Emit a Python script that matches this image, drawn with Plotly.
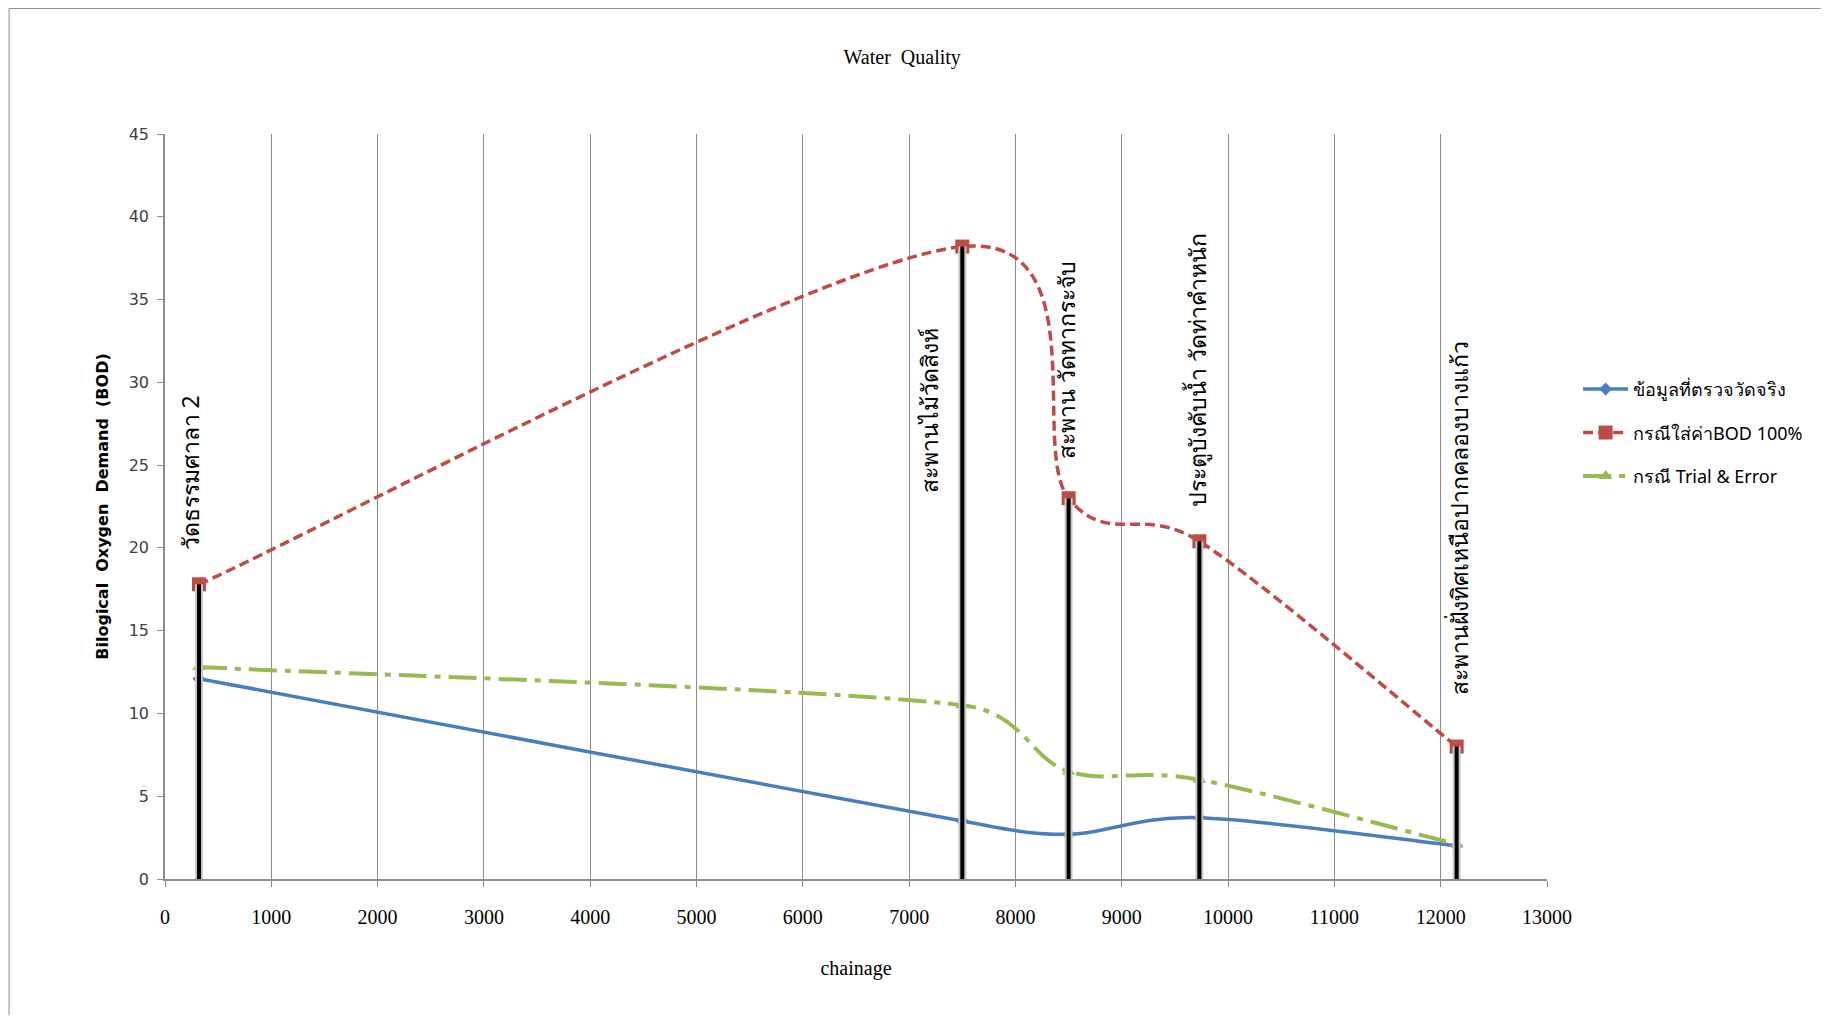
import math
import plotly.graph_objects as go

# ---- data ----
chainage = [320, 7500, 8500, 9730, 12150]
measured = [12.1, 3.5, 2.7, 3.7, 2.0]          # ข้อมูลที่ตรวจวัดจริง
bod100 = [17.8, 38.2, 23.0, 20.4, 8.0]         # กรณีใส่ค่าBOD 100%
trial = [12.8, 10.5, 6.5, 6.0, 2.1]            # กรณี Trial & Error
station_names = [
    "วัดธรรมศาลา 2",
    "สะพานไม้วัดสิงห์",
    "สะพาน วัดทากระจับ",
    "ประตูบังคับน้ำ วัดท่าคำหนัก",
    "สะพานฝั่งทิศเหนือปากคลองบางแก้ว",
]
series_names = ["ข้อมูลที่ตรวจวัดจริง", "กรณีใส่ค่าBOD 100%", "กรณี Trial & Error"]
x_ticks = list(range(0, 13001, 1000))
y_ticks = list(range(0, 46, 5))
X_RANGE = [0, 13000]
Y_RANGE = [0, 45]

# ---- label placement (styling only) ----
label_base_y = [19.7, 23.2, 25.2, 22.4, 11.0]
label_xshift = [-9, -33, -3, -2, 2]

BLUE = "#4a7ebb"
RED = "#be4b48"
GREEN = "#98b954"
THAI_FONT = "Noto Sans, DejaVu Sans, Liberation Sans, sans-serif"
SERIF = "Liberation Serif, Times New Roman, serif"

# page body has an 8px margin; figure sized to fit without scrolling
W, H = 1813, 1008
L, R, T, B = 156.5, 274, 126, 136.5
PW, PH = W - L - R, H - T - B
SX = PW / (X_RANGE[1] - X_RANGE[0])   # px per data unit (for smoothing geometry only)
SY = PH / (Y_RANGE[1] - Y_RANGE[0])


def smooth_path(xs, ys, clamp=0.5):
    """Spreadsheet-style smoothed line: cubic Bezier, handles = 1/6 of the
    neighbour chord (screen space), limited to a fraction of the segment."""
    pts = [(x * SX, y * SY) for x, y in zip(xs, ys)]
    n = len(pts)

    def handle(vec, seg):
        ln = math.hypot(*vec)
        lim = clamp * math.hypot(*seg)
        if ln > lim and ln > 0:
            vec = (vec[0] * lim / ln, vec[1] * lim / ln)
        return vec

    d = f"M {xs[0]},{ys[0]}"
    for i in range(n - 1):
        pp = pts[i - 1] if i > 0 else pts[i]
        p0, p1 = pts[i], pts[i + 1]
        pn = pts[i + 2] if i + 2 < n else pts[i + 1]
        seg = (p1[0] - p0[0], p1[1] - p0[1])
        h1 = handle(((p1[0] - pp[0]) / 6, (p1[1] - pp[1]) / 6), seg)
        h2 = handle(((pn[0] - p0[0]) / 6, (pn[1] - p0[1]) / 6), seg)
        c1 = ((p0[0] + h1[0]) / SX, (p0[1] + h1[1]) / SY)
        c2 = ((p1[0] - h2[0]) / SX, (p1[1] - h2[1]) / SY)
        d += f" C {c1[0]:.3f},{c1[1]:.4f} {c2[0]:.3f},{c2[1]:.4f} {xs[i + 1]},{ys[i + 1]}"
    return d


series = [
    (measured, series_names[0], BLUE, 3.5, "solid", "diamond", 10),
    (bod100, series_names[1], RED, 3.5, "10px,5px", "square", 14),
    (trial, series_names[2], GREEN, 4, "28px,8px,6px,8px", "triangle-up", 12),
]

fig = go.Figure()
shapes = []

try:
    go.layout.Shape(layer="between")
    CURVE_LAYER = "between"
except Exception:
    CURVE_LAYER = "below"

for vals, name, col, lw, dash, sym, msize in series:
    # smoothed connecting curve, drawn on the data axes
    shapes.append(dict(type="path", xref="x", yref="y", path=smooth_path(chainage, vals),
                       line=dict(color=col, width=lw, dash=dash), layer=CURVE_LAYER))
    # data markers
    fig.add_trace(go.Scatter(x=chainage, y=vals, mode="markers", name=name, showlegend=False,
                             marker=dict(symbol=sym, size=msize, color=col)))
    # legend entry
    fig.add_trace(go.Scatter(x=[None], y=[None], mode="lines+markers", name=name,
                             legendgroup=name,
                             line=dict(color=col, width=lw, dash=dash),
                             marker=dict(symbol=sym, size=msize, color=col)))

# vertical station lines from 0 up to the BOD-100% value
vx, vy = [], []
for cx, top in zip(chainage, bod100):
    vx += [cx, cx, None]
    vy += [0, top, None]
fig.add_trace(go.Scatter(
    x=vx, y=vy, mode="lines", showlegend=False, hoverinfo="skip",
    line=dict(color="#c8c8c8", width=8)))
fig.add_trace(go.Scatter(
    x=vx, y=vy, mode="lines", showlegend=False, hoverinfo="skip",
    line=dict(color="black", width=4)))

annotations = []
for cx, yb, xs, txt in zip(chainage, label_base_y, label_xshift, station_names):
    annotations.append(dict(
        x=cx, y=yb, xref="x", yref="y", text=txt, showarrow=False,
        textangle=-90, xanchor="center", yanchor="bottom", xshift=xs,
        font=dict(family=THAI_FONT, size=23, color="black")))

# chart-area border (left and top edges visible)
shapes += [
    dict(type="line", xref="paper", yref="paper",
         x0=(0.5 - L) / PW, x1=(0.5 - L) / PW,
         y0=-B / PH, y1=(H - 0.5 - B) / PH,
         line=dict(color="#8c8c8c", width=1)),
    dict(type="line", xref="paper", yref="paper",
         x0=(0.5 - L) / PW, x1=(W - L) / PW,
         y0=(H - 0.5 - B) / PH, y1=(H - 0.5 - B) / PH,
         line=dict(color="#8c8c8c", width=1)),
]

fig.update_layout(
    width=W, height=H,
    paper_bgcolor="white", plot_bgcolor="white",
    margin=dict(l=L, r=R, t=T, b=B, autoexpand=False),
    title=dict(text="Water  Quality", x=(902 - 8 - L) / PW, xref="paper", xanchor="center",
               y=1 - 49 / H, yref="container", yanchor="middle",
               font=dict(family=SERIF, size=20, color="black")),
    xaxis=dict(
        range=X_RANGE, tickvals=x_ticks, ticktext=[str(v) for v in x_ticks],
        showgrid=True, gridcolor="#8c8c8c", gridwidth=1,
        showline=True, linecolor="#8c8c8c", linewidth=1.5,
        ticks="outside", ticklen=6, tickcolor="#8c8c8c",
        zeroline=False, ticklabelstandoff=13,
        tickfont=dict(family=SERIF, size=20, color="black"),
        title=dict(text="chainage", standoff=34,
                   font=dict(family=SERIF, size=20, color="black"))),
    yaxis=dict(
        range=Y_RANGE, tickvals=y_ticks, showgrid=False,
        showline=True, linecolor="#8c8c8c", linewidth=1.5,
        ticks="outside", ticklen=6, tickcolor="#8c8c8c",
        zeroline=False, ticklabelstandoff=5,
        tickfont=dict(family="DejaVu Sans, Verdana, sans-serif", size=16, color="#404040"),
        title=dict(text="<b>Bilogical  Oxygen  Demand  (BOD)</b>", standoff=16,
                   font=dict(family="DejaVu Sans, Verdana, sans-serif", size=16, color="black"))),
    legend=dict(
        x=1.0225, y=0.682, xanchor="left", yanchor="top",
        traceorder="grouped", tracegroupgap=17, itemwidth=45,
        font=dict(family=THAI_FONT, size=18, color="black"),
        bgcolor="rgba(0,0,0,0)"),
    annotations=annotations,
    shapes=shapes,
    showlegend=True,
)

fig.write_html("out.html")
